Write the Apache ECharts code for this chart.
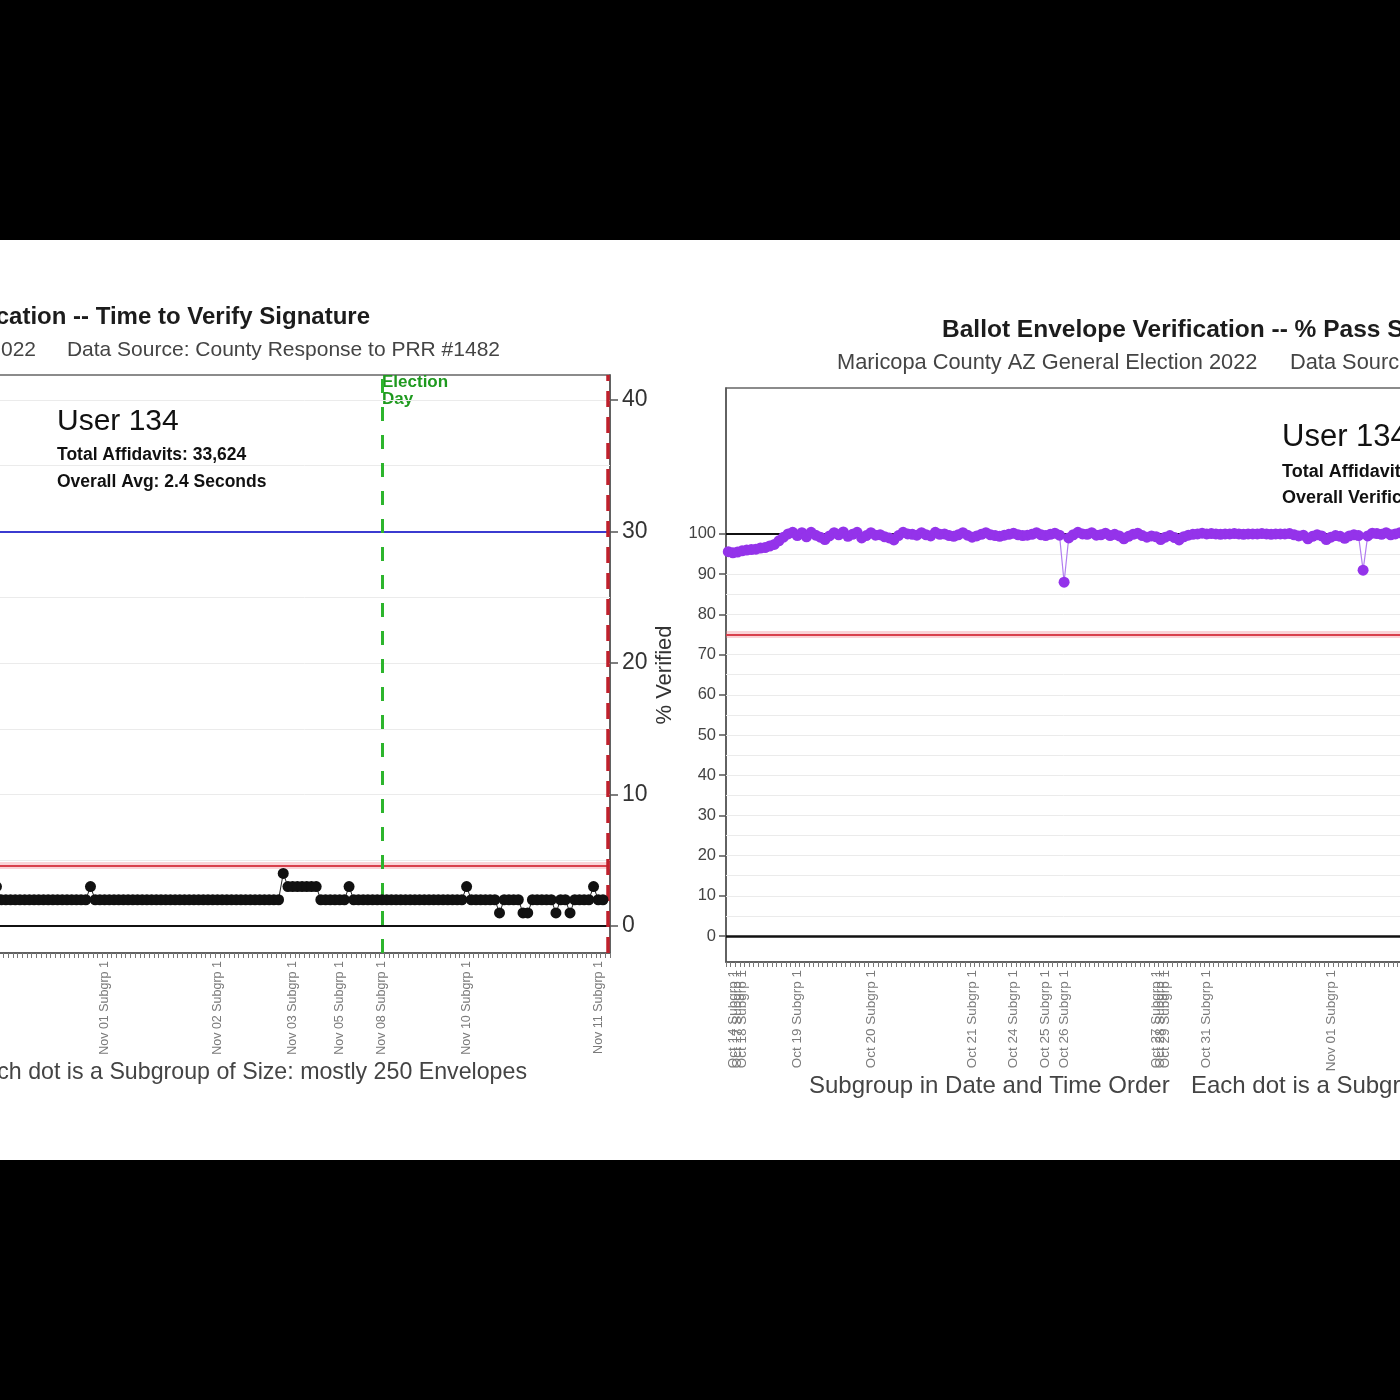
<!DOCTYPE html>
<html>
<head>
<meta charset="utf-8">
<script src="https://cdn.jsdelivr.net/npm/echarts@6.0.0/dist/echarts.min.js"></script>
<style>
  html, body { margin:0; padding:0; background:#000; width:1400px; height:1400px; overflow:hidden; }
  #chart { position:absolute; left:0; top:240px; width:1400px; height:920px; background:#fff; }
</style>
</head>
<body>
<div id="chart"></div>
<script>
// ---------- DATA ----------
// Left chart: time to verify signature (seconds), one dot per subgroup
const leftDays = ['Oct 31', 'Nov 01', 'Nov 02', 'Nov 03', 'Nov 05', 'Nov 08', 'Nov 10', 'Nov 11'];
const leftDayCounts = [26, 24, 16, 10, 9, 18, 28, 3];
const leftValues = [
  2,2,2,3,2,2,2,2,2,2, 2,2,2,2,2,2,2,2,2,2,
  2,2,2,3,2,2,2,2,2,2, 2,2,2,2,2,2,2,2,2,2,
  2,2,2,2,2,2,2,2,2,2, 2,2,2,2,2,2,2,2,2,2,
  2,2,2,2,4,3,3,3,3,3, 3,3,2,2,2,2,2,2,3,2,
  2,2,2,2,2,2,2,2,2,2, 2,2,2,2,2,2,2,2,2,2,
  2,2,2,3,2,2,2,2,2,2, 1,2,2,2,2,1,1,2,2,2,
  2,2,1,2,2,1,2,2,2,2, 3,2,2,'-'
];
const leftTicks = [0, 10, 20, 30, 40];
const leftGridLines = [5, 10, 15, 20, 25, 35, 40];
const leftUpperLimit = 30;     // blue line
const leftRedLimit = 4.6;      // red line
const electionDayCat = 'Nov 08 Subgrp 1';
const leftEndCat = 'Nov 11 Subgrp 3';

// Right chart: % verified, one dot per subgroup
const rightDays = ['Oct 13', 'Oct 14', 'Oct 17', 'Oct 18', 'Oct 19', 'Oct 20', 'Oct 21', 'Oct 24', 'Oct 25', 'Oct 26', 'Oct 27', 'Oct 28', 'Oct 29', 'Oct 31', 'Nov 01'];
const rightDayCounts = [1, 1, 1, 12, 16, 22, 9, 7, 4, 20, 1, 1, 9, 27, 19];
const rightValues = [
  95.6, 95.3, 95.5, 95.8, 96.0, 96.1, 96.2, 96.5, 96.6, 97.0,
  97.4, 98.3, 99.2, 100, 100.4,
  99.6, 100.3, 99.3, 100.4, 99.7, 99.2, 98.6, 99.5, 100.3, 99.8, 100.5, 99.4, 99.9, 100.4, 99.0, 99.6,
  100.3, 99.7, 99.8, 99.3, 99.0, 98.5, 99.6, 100.4, 100, 99.9, 99.7, 100.3, 99.8, 99.5, 100.4, 99.9, 100, 99.6, 99.4, 99.8, 100.3, 99.7,
  99.2, 99.5, 99.9, 100.3, 99.8, 99.6, 99.4, 99.7, 99.9,
  100.2, 99.8, 99.6, 99.7, 99.9, 100.3, 99.8,
  99.6, 99.9, 100.2, 99.7,
  88.0, 99.0, 99.8, 100.4, 100, 99.9, 100.3, 99.7, 99.8, 100.2, 99.6, 99.9, 99.5, 98.8, 99.4, 99.9, 100.2, 99.6, 99.2, 99.5,
  99.3,
  98.6,
  99.2, 99.6, 99.1, 98.5, 99.3, 99.7, 99.9, 100, 100.2,
  100, 100.1, 100, 99.9, 100, 100, 100.1, 100, 99.9, 100, 100, 100, 100.1, 100, 99.9, 100, 100, 100, 100.1, 99.8, 99.5, 99.7, 98.8, 99.4, 99.8, 99.5, 98.6,
  99.2, 99.6, 99.4, 98.9, 99.5, 99.8, 99.6, 91.0, 99.5, 100.2, 100.1, 99.9, 100.3, 99.8, 100, 100.3, 99.9, 100, 99.9
];
const rightTicks = [0, 10, 20, 30, 40, 50, 60, 70, 80, 90, 100];
const rightGridLines = [5, 10, 15, 20, 25, 30, 35, 40, 45, 50, 55, 60, 65, 70, 75, 80, 85, 90, 95];
const rightRedLimit = 75;
const rightTopLine = 100;

// ---------- BUILD ----------
function buildCats(days, counts) {
  const out = [];
  days.forEach((d, k) => { for (let s = 1; s <= counts[k]; s++) out.push(d + ' Subgrp ' + s); });
  return out;
}
const leftCats = buildCats(leftDays, leftDayCounts);
const rightCats = buildCats(rightDays, rightDayCounts);

const FONT = "'Liberation Sans', Arial, sans-serif";

function hLines(vals, color, width, type) {
  return vals.map(v => ({ yAxis: v, lineStyle: { color: color, width: width, type: type || 'solid' } }));
}
function refSeries(xi, markData, z) {
  return {
    type: 'line', xAxisIndex: xi, yAxisIndex: xi, data: [], z: z, silent: true,
    markLine: { silent: true, symbol: ['none', 'none'], label: { show: false }, animation: false, data: markData }
  };
}
function catAxis(gi, cats, fs) {
  return {
    type: 'category', gridIndex: gi, data: cats, boundaryGap: true,
    axisLine: { show: true, onZero: false, lineStyle: { color: '#555', width: 1.5 } },
    axisTick: { show: true, interval: 0, length: 5, lineStyle: { color: '#777', width: 1 } },
    axisLabel: { interval: (i, v) => /Subgrp 1$/.test(v), rotate: 90, fontSize: fs, color: '#7a7a7a', margin: 8, fontFamily: FONT },
    splitLine: { show: false }
  };
}

const chart = echarts.init(document.getElementById('chart'));
chart.setOption({
  animation: false,
  backgroundColor: '#fff',
  grid: [
    { left: -20, width: 630, top: 135, height: 578, show: true, borderColor: '#666', borderWidth: 1.5, backgroundColor: 'transparent', outerBoundsMode: 'none', containLabel: false },
    { left: 726, width: 690, top: 148, height: 574, show: true, borderColor: '#666', borderWidth: 1.5, backgroundColor: 'transparent', outerBoundsMode: 'none', containLabel: false }
  ],
  xAxis: [ catAxis(0, leftCats, 12.5), catAxis(1, rightCats, 13.5) ],
  yAxis: [
    { type: 'value', gridIndex: 0, position: 'right', min: -2.05, max: 41.9,
      axisLine: { show: true, lineStyle: { color: '#555', width: 1.5 } },
      axisTick: { show: true, length: 8, customValues: leftTicks, lineStyle: { color: '#555', width: 1.5 } },
      axisLabel: { customValues: leftTicks, fontSize: 23, color: '#333', margin: 12, fontFamily: FONT },
      splitLine: { show: false } },
    { type: 'value', gridIndex: 1, position: 'left', min: -6.47, max: 136.3,
      axisLine: { show: true, lineStyle: { color: '#555', width: 1.5 } },
      axisTick: { show: true, length: 7, customValues: rightTicks, lineStyle: { color: '#555', width: 1.5 } },
      axisLabel: { customValues: rightTicks, fontSize: 16.5, color: '#444', margin: 10, fontFamily: FONT },
      splitLine: { show: false } }
  ],
  series: [
    // left reference lines
    refSeries(0, [].concat(
      hLines(leftGridLines, '#ebebeb', 1),
      hLines([leftUpperLimit], '#3b3bd0', 2),
      hLines([leftRedLimit], 'rgba(240,130,140,0.35)', 7),
      hLines([leftRedLimit], '#d8404c', 2),
      hLines([0], '#111', 2)
    ), 1),
    refSeries(0, [
      { xAxis: electionDayCat, lineStyle: { color: '#2db52d', width: 3, type: [14, 14] } },
      { xAxis: leftEndCat, lineStyle: { color: '#c0202c', width: 3.5, type: [16, 10] } }
    ], 2),
    {
      type: 'line', xAxisIndex: 0, yAxisIndex: 0, data: leftValues, z: 5,
      symbol: 'circle', symbolSize: 11, showAllSymbol: true,
      itemStyle: { color: '#111' }, lineStyle: { color: '#222', width: 1 }
    },
    // right reference lines
    refSeries(1, [].concat(
      hLines(rightGridLines, '#ebebeb', 1),
      hLines([rightRedLimit], 'rgba(240,130,140,0.35)', 7),
      hLines([rightRedLimit], '#d8404c', 2),
      hLines([rightTopLine], '#111', 2),
      hLines([0], '#111', 2.5)
    ), 1),
    {
      type: 'line', xAxisIndex: 1, yAxisIndex: 1, data: rightValues, z: 5,
      symbol: 'circle', symbolSize: 11, showAllSymbol: true,
      itemStyle: { color: '#9433ea' }, lineStyle: { color: '#b27ef0', width: 1.2 }
    }
  ],
  graphic: [
    // left chart texts
    { type: 'text', x: 370, y: 77, style: { text: 'Ballot Envelope Verification -- Time to Verify Signature', font: 'bold 24px ' + FONT, fill: '#1c1c1c', textAlign: 'right', textVerticalAlign: 'middle' } },
    { type: 'text', x: 36, y: 110, style: { text: 'Maricopa County AZ General Election 2022', font: '21px ' + FONT, fill: '#444', textAlign: 'right', textVerticalAlign: 'middle' } },
    { type: 'text', x: 500, y: 110, style: { text: 'Data Source: County Response to PRR #1482', font: '21px ' + FONT, fill: '#444', textAlign: 'right', textVerticalAlign: 'middle' } },
    { type: 'text', x: 57, y: 182, style: { text: 'User 134', font: '30px ' + FONT, fill: '#111', textAlign: 'left', textVerticalAlign: 'middle' } },
    { type: 'text', x: 57, y: 215, style: { text: 'Total Affidavits: 33,624', font: 'bold 17.5px ' + FONT, fill: '#111', textAlign: 'left', textVerticalAlign: 'middle' } },
    { type: 'text', x: 57, y: 242, style: { text: 'Overall Avg: 2.4 Seconds', font: 'bold 17.5px ' + FONT, fill: '#111', textAlign: 'left', textVerticalAlign: 'middle' } },
    { type: 'text', x: 382, y: 142, style: { text: 'Election', font: 'bold 17px ' + FONT, fill: '#1f9a1f', textAlign: 'left', textVerticalAlign: 'middle' } },
    { type: 'text', x: 382, y: 159, style: { text: 'Day', font: 'bold 17px ' + FONT, fill: '#1f9a1f', textAlign: 'left', textVerticalAlign: 'middle' } },
    { type: 'text', x: 527, y: 833, style: { text: 'Subgroup in Date and Time Order    Each dot is a Subgroup of Size: mostly 250 Envelopes', font: '23.2px ' + FONT, fill: '#444', textAlign: 'right', textVerticalAlign: 'middle' } },
    // right chart texts
    { type: 'text', x: 942, y: 90, style: { text: 'Ballot Envelope Verification -- % Pass Signature Verification', font: 'bold 24.5px ' + FONT, fill: '#1c1c1c', textAlign: 'left', textVerticalAlign: 'middle' } },
    { type: 'text', x: 837, y: 123, style: { text: 'Maricopa County AZ General Election 2022', font: '21.8px ' + FONT, fill: '#444', textAlign: 'left', textVerticalAlign: 'middle' } },
    { type: 'text', x: 1290, y: 123, style: { text: 'Data Source: County Response to PRR #1482', font: '21.8px ' + FONT, fill: '#444', textAlign: 'left', textVerticalAlign: 'middle' } },
    { type: 'text', x: 1282, y: 197, style: { text: 'User 134', font: '31px ' + FONT, fill: '#111', textAlign: 'left', textVerticalAlign: 'middle' } },
    { type: 'text', x: 1282, y: 232, style: { text: 'Total Affidavits: 33,624', font: 'bold 18px ' + FONT, fill: '#111', textAlign: 'left', textVerticalAlign: 'middle' } },
    { type: 'text', x: 1282, y: 258, style: { text: 'Overall Verification: 99.6%', font: 'bold 18px ' + FONT, fill: '#111', textAlign: 'left', textVerticalAlign: 'middle' } },
    { type: 'text', x: 665, y: 435, rotation: Math.PI / 2, style: { text: '% Verified', font: '22px ' + FONT, fill: '#333', textAlign: 'center', textVerticalAlign: 'middle' } },
    { type: 'text', x: 809, y: 846, style: { text: 'Subgroup in Date and Time Order', font: '24px ' + FONT, fill: '#444', textAlign: 'left', textVerticalAlign: 'middle' } },
    { type: 'text', x: 1191, y: 846, style: { text: 'Each dot is a Subgroup of Size: mostly 250 Envelopes', font: '24px ' + FONT, fill: '#444', textAlign: 'left', textVerticalAlign: 'middle' } }
  ]
});
</script>
</body>
</html>
